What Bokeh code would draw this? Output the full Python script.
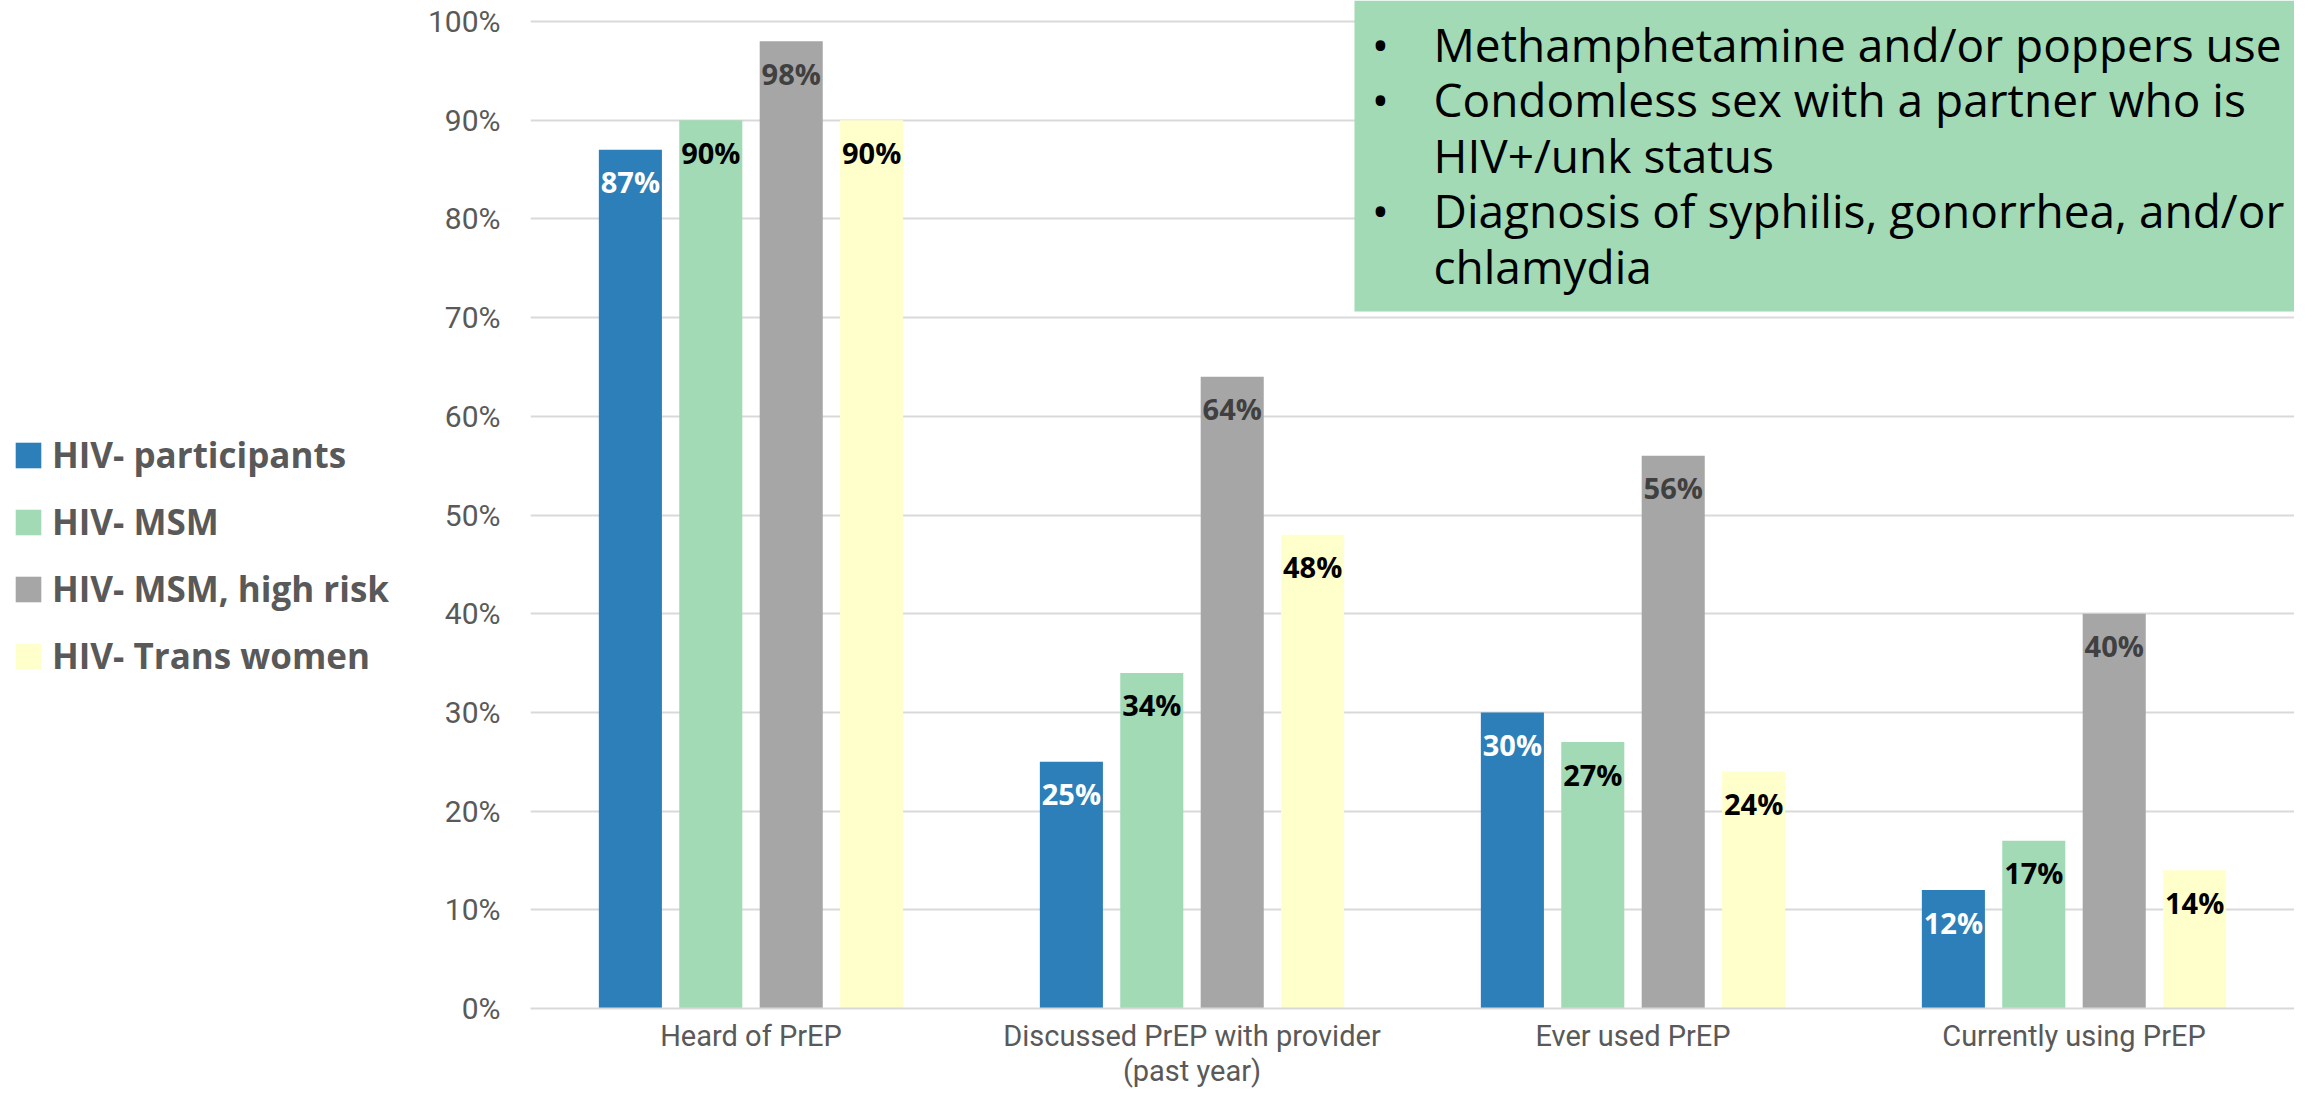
from bokeh.plotting import figure
from bokeh.layouts import row
from bokeh.models import (ColumnDataSource, FactorRange, Range1d, FixedTicker,
                          NumeralTickFormatter, Legend, LegendItem, LabelSet,
                          BoxAnnotation, Label)
from bokeh.transform import dodge
from bokeh.core.properties import value
from bokeh.embed import file_html
from bokeh.resources import INLINE

# ---- data ----
categories = ["Heard of PrEP", "Discussed PrEP with provider\n(past year)",
              "Ever used PrEP", "Currently using PrEP"]
series_names = ["HIV- participants", "HIV- MSM", "HIV- MSM, high risk", "HIV- Trans women"]
hiv_participants = [0.87, 0.25, 0.30, 0.12]
hiv_msm = [0.90, 0.34, 0.27, 0.17]
hiv_msm_high_risk = [0.98, 0.64, 0.56, 0.40]
hiv_trans_women = [0.90, 0.48, 0.24, 0.14]
y_ticks = [0.0, 0.1, 0.2, 0.3, 0.4, 0.5, 0.6, 0.7, 0.8, 0.9, 1.0]
box_lines = ["Methamphetamine and/or poppers use",
             "Condomless sex with a partner who is",
             "HIV+/unk status",
             "Diagnosis of syphilis, gonorrhea, and/or",
             "chlamydia"]
box_bullets = [True, True, False, True, False]

series = [hiv_participants, hiv_msm, hiv_msm_high_risk, hiv_trans_women]
colors = ["#2c7fb8", "#a1dab4", "#a6a6a6", "#ffffcc"]
label_colors = ["#ffffff", "#000000", "#404040", "#000000"]
offsets = [-0.2735, -0.0912, 0.0912, 0.2735]

# ---- layout geometry (canvas pixels) ----
TOTAL_W, H = 2294, 1091
LEG_W = 400
FRAME_L = 530          # frame left, whole-page canvas px
FRAME_B = 1008         # expected frame bottom px
TOP100 = 21            # px of the 100% line
CAT_W = (TOTAL_W - FRAME_L) / 4.0


def ypx(py):
    return (FRAME_B - py) / (FRAME_B - TOP100)


def xpx(px):
    return (px - FRAME_L) / CAT_W


data = dict(cat=categories)
for i, s in enumerate(series):
    data[f"s{i}"] = s
    data[f"l{i}"] = [f"{round(v * 100)}%" for v in s]
source = ColumnDataSource(data)

p = figure(x_range=FactorRange(*categories, range_padding=0),
           y_range=Range1d(0, FRAME_B / (FRAME_B - TOP100)),
           width=TOTAL_W - LEG_W, height=H, output_backend="svg",
           toolbar_location=None,
           min_border_left=FRAME_L - LEG_W, min_border_right=0,
           min_border_top=0, min_border_bottom=60)
p.outline_line_color = None
p.background_fill_color = "white"
p.border_fill_color = "white"

for i in range(4):
    p.vbar(x=dodge("cat", offsets[i], range=p.x_range), top=f"s{i}",
           width=0.143, source=source, fill_color=colors[i], line_color=None)
    labels = LabelSet(x=dodge("cat", offsets[i], range=p.x_range), y=f"s{i}",
                      text=f"l{i}", source=source, y_offset=-32,
                      text_align="center", text_baseline="middle",
                      text_font=value("Open Sans"), text_font_style="bold",
                      text_font_size="29px", text_color=label_colors[i])
    p.add_layout(labels)

# axes
p.yaxis.ticker = FixedTicker(ticks=y_ticks)
p.yaxis.formatter = NumeralTickFormatter(format="0%")
p.yaxis.axis_line_color = None
p.yaxis.major_tick_line_color = None
p.yaxis.major_tick_out = 0
p.yaxis.minor_tick_line_color = None
p.yaxis.major_label_standoff = 30
p.yaxis.major_label_text_font = "Roboto"
p.yaxis.major_label_text_font_size = "30px"
p.yaxis.major_label_text_color = "#595959"

p.xaxis.axis_line_color = "#d9d9d9"
p.xaxis.axis_line_width = 2
p.xaxis.major_tick_line_color = None
p.xaxis.major_tick_out = 0
p.xaxis.major_tick_in = 0
p.xaxis.minor_tick_line_color = None
p.xaxis.major_label_standoff = 10
p.xaxis.major_label_text_font = "Roboto"
p.xaxis.major_label_text_font_size = "29px"
p.xaxis.major_label_text_color = "#595959"
p.xaxis.major_label_text_line_height = 1.05

p.xgrid.grid_line_color = None
p.ygrid.grid_line_color = "#d9d9d9"
p.ygrid.grid_line_width = 2

# green info box
box = BoxAnnotation(left=xpx(1354), bottom=ypx(311), fill_color="#a1dab4",
                    fill_alpha=1.0, line_color=None)
p.add_layout(box)

baselines_px = [43, 98.5, 154, 209.5, 265]
for line, bullet, bpx in zip(box_lines, box_bullets, baselines_px):
    y = ypx(bpx)
    p.add_layout(Label(x=xpx(1433), y=y, text=line, text_font="Open Sans",
                       text_font_size="46px", text_color="black",
                       text_baseline="alphabetic", text_align="left"))
    if bullet:
        p.add_layout(Label(x=xpx(1380), y=y, text="\u2022", text_font="Open Sans",
                           text_font_size="46px", text_color="black",
                           text_baseline="alphabetic", text_align="center"))

# ---- legend panel (separate figure on the left) ----
pl = figure(width=LEG_W, height=H, output_backend="svg", toolbar_location=None,
            x_axis_type=None, y_axis_type=None, x_range=Range1d(0, 1),
            y_range=Range1d(0, 1), min_border=0)
pl.outline_line_color = None
pl.xgrid.grid_line_color = None
pl.ygrid.grid_line_color = None
pl.background_fill_color = "white"
pl.border_fill_color = "white"
items = []
for i in range(4):
    # zero-height dummy renderer: only its legend swatch is visible
    rr = pl.vbar(x=[0.5], bottom=[0], top=[0], width=0.0, fill_color=colors[i],
                 line_color=None)
    items.append(LegendItem(label=series_names[i], renderers=[rr]))
legend = Legend(items=items, location=(12, 329), orientation="vertical",
                glyph_width=32, glyph_height=32, label_height=32,
                label_standoff=8, spacing=20, padding=0, margin=0,
                border_line_color=None, background_fill_alpha=0,
                label_text_font="Open Sans", label_text_font_style="bold",
                label_text_font_size="35px", label_text_color="#595959")
pl.add_layout(legend)

layout = row(pl, p, spacing=0)
open("out.html", "w").write(file_html(layout, INLINE))
